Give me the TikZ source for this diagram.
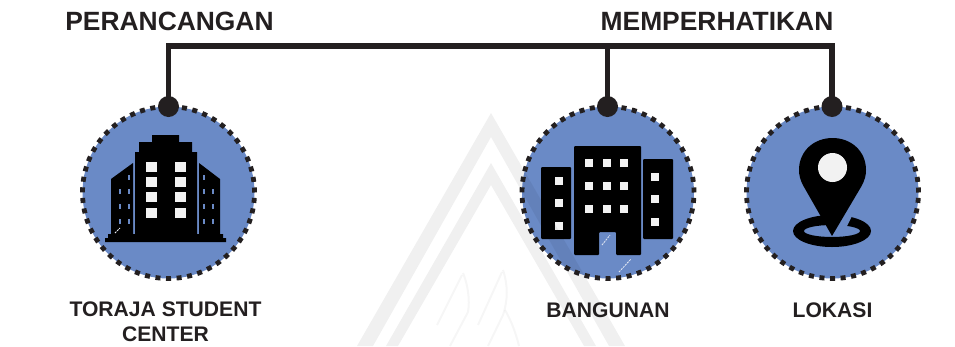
\documentclass[tikz,border=0pt]{standalone}
\usepackage{fontspec}
\setmainfont{Liberation Sans}
\definecolor{ink}{HTML}{231F20}
\definecolor{blu}{HTML}{6A8AC6}
\tikzset{
 badge/.style={circle,minimum size=172pt,inner sep=0pt,fill=blu},
 ringline/.style={draw=ink,line width=4.8pt,dash pattern=on 5pt off 5.6pt},
 hub/.style={circle,fill=ink,minimum size=21pt,inner sep=0pt},
 wire/.style={draw=ink,line width=5.3pt},
 head/.style={font=\bfseries\fontsize{26.4}{28}\selectfont,text=ink,inner sep=0pt,anchor=base},
 capt/.style={font=\bfseries\fontsize{21.1}{25}\selectfont,text=ink,inner sep=0pt,align=center},
 win/.style={fill=white!95!black},
 wmark/.style={fill=black,opacity=.06},
 feather/.style={draw=black,draw opacity=.035,line width=2pt},
 scratch/.style={draw=white!85!blu,line width=.8pt,dash pattern=on 2pt off 1pt},
}
\begin{document}
\begin{tikzpicture}[x=1pt,y=-1pt]
\useasboundingbox (0,0) rectangle (955,346);
% badges
\node[badge] (b1) at (168.5,192.5) {};
\node[badge] (b2) at (608,192.5) {};
\node[badge] (b3) at (832.5,192.5) {};
\foreach \n in {b1,b2,b3}{\draw[ringline] (\n) circle[radius=86pt];}
% hubs
\node[hub] (h1) at (168.5,106.5) {};
\node[hub] (h2) at (607.5,106.5) {};
\node[hub] (h3) at (832,106.5) {};
\coordinate (t1) at (168.5,46);
\coordinate (t3) at (832,46);
\draw[wire,line join=miter] (h1.center) -- (t1) -- (t3) -- (h3.center);
\draw[wire] (h2.center) -- (h2.center |- t1);
% building 1
\fill[black] (105,242) -- (105,238) -- (108,238) -- (108,234) -- (111,234) -- (111,179) -- (133,163) -- (133,234) -- (135,234) -- (135,152) -- (139,152) -- (139,142) -- (152,142) -- (152,135) -- (179,135) -- (179,142) -- (192,142) -- (192,152) -- (197,152) -- (197,234) -- (199,234) -- (199,163) -- (220,179) -- (220,234) -- (223,234) -- (223,238) -- (226,238) -- (226,242) -- cycle;
\foreach \y in {162,177,192,208}{\foreach \x in {146,175}{\fill[win] (\x,\y) rectangle +(11,10);}}
\foreach \x/\y in {128/175,119/189,128/189,119/204,128/204,119/219,128/219,203/175,203/189,212/189,203/204,212/204,203/219,212/219}{\fill[blu] (\x,\y) rectangle +(2.4,5);}
\draw[scratch] (115,233) -- (120,228);
% building 2
\fill[black,rounded corners=1pt] (541,167) rectangle (571,239);
\fill[black,rounded corners=1pt] (643,159) rectangle (673,239);
\fill[black,rounded corners=1pt] (574,146) -- (641,146) -- (641,255) -- (616,255) -- (616,232) -- (599,232) -- (599,255) -- (574,255) -- cycle;
\foreach \y in {177,199,222}{\fill[win] (555,\y) rectangle +(8,8);}
\foreach \y in {173,195,218}{\fill[win] (651,\y) rectangle +(8,8);}
\foreach \y in {159,182,205}{\foreach \x in {585,603,620}{\fill[win] (\x,\y) rectangle +(8,8);}}
\draw[scratch] (602,245) -- (610,235);
\draw[scratch] (619,272) -- (631,259);
% pin
\fill[black,even odd rule] (832,231) ellipse[x radius=39pt,y radius=16pt] (832,231) ellipse[x radius=28pt,y radius=6pt];
\fill[blu] (832,236) -- (847,226) -- (854,212) -- (842,212) -- cycle;
\fill[black] (832,236) -- (804,187) .. controls (800,180) and (799,175) .. (799,170) .. controls (799,151) and (814,138) .. (832.5,138) .. controls (851,138) and (866,151) .. (866,170) .. controls (866,175) and (865,180) .. (861,187) -- cycle;
\fill[win] (832.5,167.5) circle[radius=14.5pt];
% labels
\node[head] (lp) at (169.5,30) {PERANCANGAN};
\node[head] (lm) at (717,30) {MEMPERHATIKAN};
\node[capt] (c1) at (165.5,321.5) {TORAJA STUDENT\\CENTER};
\node[capt] (c2) at (608,310) {BANGUNAN};
\node[capt] (c3) at (832.5,310) {LOKASI};
% watermark
\fill[wmark] (491,113) -- (357,346) -- (373,346) -- (491,137) -- (609,346) -- (625,346) -- cycle;
\fill[wmark] (491,163) -- (386,346) -- (398,346) -- (491,185) -- (584,346) -- (596,346) -- cycle;
\draw[feather] (463,273) .. controls (468,285) and (470,300) .. (468,312) -- (450,346);
\draw[feather] (462,275) -- (437,325);
\draw[feather] (503,270) .. controls (508,285) and (508,300) .. (503,315) -- (488,346);
\draw[feather] (502,272) -- (478,325);
\draw[feather] (505,310) .. controls (512,322) and (516,334) .. (519,346);
\end{tikzpicture}
\end{document}
